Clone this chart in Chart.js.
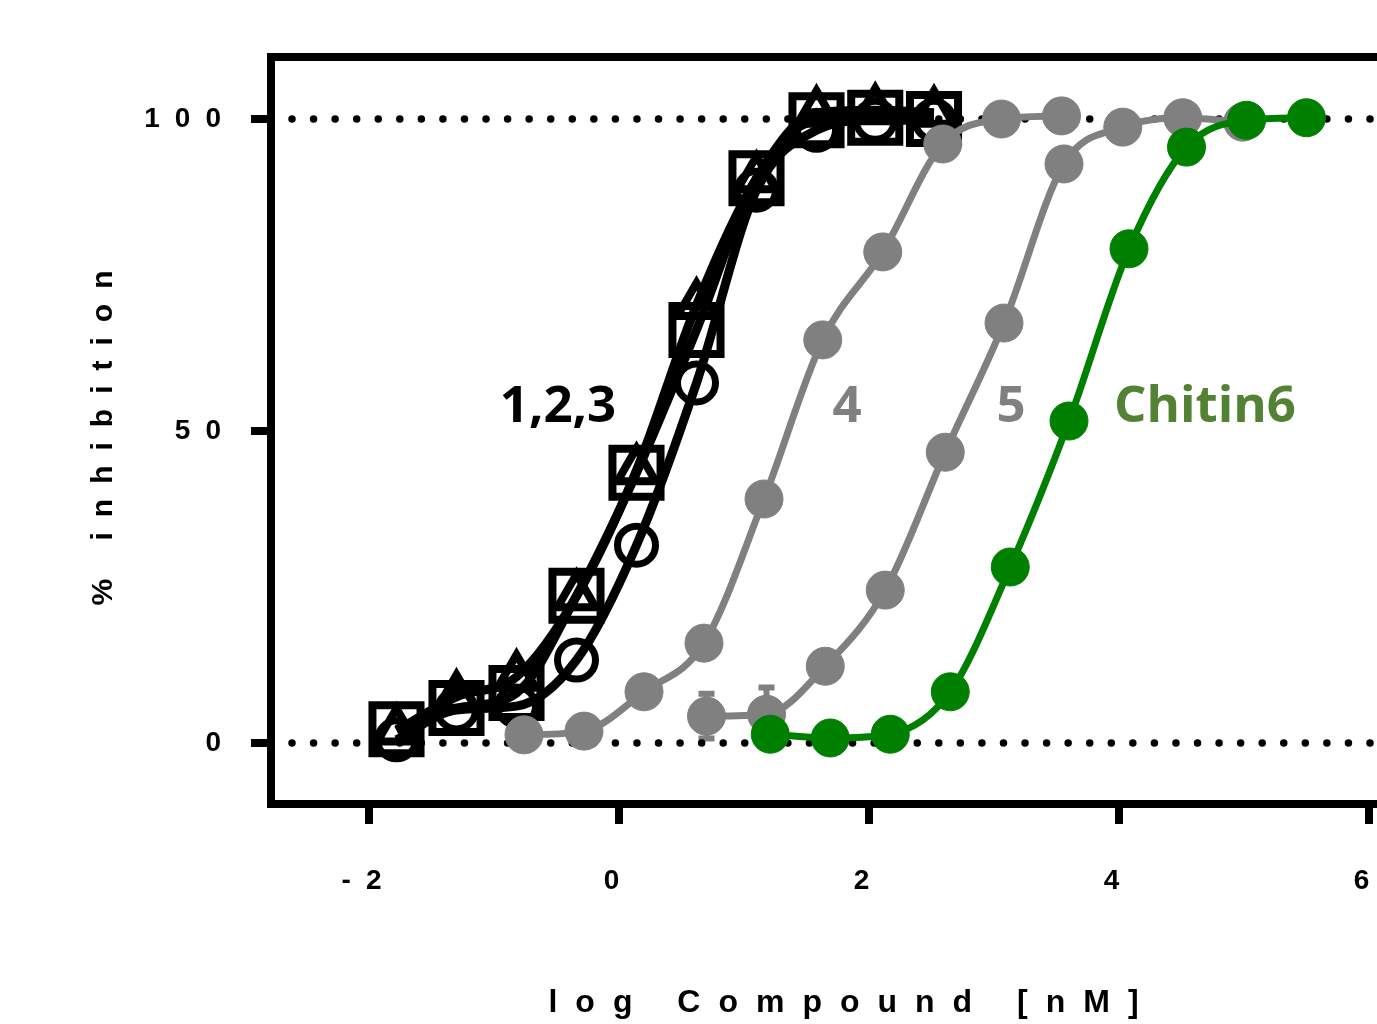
<!DOCTYPE html>
<html>
<head>
<meta charset="utf-8">
<script src="https://cdn.jsdelivr.net/npm/chart.js@4.4.1/dist/chart.umd.min.js"></script>
<style>
  html,body{margin:0;padding:0;background:#fff;overflow:hidden;width:1377px;height:1024px;}
  #wrap{width:1600px;height:1024px;}
  #c{display:block;width:1476px;height:1024px;}
</style>
</head>
<body>
<div id="wrap"><canvas id="c" width="1476" height="1024"></canvas></div>
<script>
/* ---------- DATA ---------- */
const xBlack = [-1.78, -1.30, -0.82, -0.34, 0.14, 0.62, 1.10, 1.58, 2.05, 2.52];
const sq     = [2.2, 5.6, 8.0, 23.6, 43.3, 66.2, 90.5, 99.8, 100.2, 100.0];
const tri    = [2.0, 7.4, 10.6, 23.5, 43.7, 70.2, 90.5, 101.0, 101.4, 101.0];
const circ   = [0.5, 5.3, 5.9, 13.3, 31.7, 57.7, 88.6, 98.2, 99.8, 99.8];

const xGrey4 = [-0.76, -0.28, 0.20, 0.68, 1.16, 1.63, 2.11, 2.59, 3.06, 3.54];
const grey4  = [1.3, 1.9, 8.2, 16.0, 39.1, 64.6, 78.7, 96.0, 100.0, 100.5];

const xGrey5   = [0.70, 1.18, 1.65, 2.13, 2.61, 3.08, 3.56, 4.03, 4.51, 4.99];
const grey5    = [4.3, 4.6, 12.3, 24.5, 46.6, 67.3, 92.8, 98.7, 100.2, 99.5];
const grey5Err = [3.6, 4.3, 0, 0, 0, 0, 0, 0, 0, 0];

const xGreen = [1.21, 1.69, 2.17, 2.65, 3.13, 3.60, 4.08, 4.54, 5.02, 5.50];
const green  = [1.4, 0.8, 1.4, 8.2, 28.2, 51.6, 79.2, 95.5, 99.8, 100.2];

const refX   = [-2.616, 6.6];      // dotted 0 % and 100 % lines
const refLvl = [0, 100];

const xTicks = [-2, 0, 2, 4, 6];
const yTicks = [0, 50, 100];

const labels = ['1,2,3', '4', '5', 'Chitin6'];
const labelX = [-0.488, 1.824, 3.136, 4.688];
const labelY = [51.4, 51.4, 51.4, 51.4];
const labelC = ['#000000', '#808080', '#808080', '#548235'];

/* ---------- SCALE RANGE ---------- */
const xMin = -2.784, xMax = 6.52;
const yMin = -9.78,  yMax = 109.94;

const GREY = '#808080', GREEN = '#008000';
const tickFont = {family:'Liberation Sans', size:28, weight:'bold'};
const pts = (xs, ys) => xs.map((x,i) => ({x, y:ys[i]}));

/* ---------- PLUGINS ---------- */
// letter spacing for axis texts (Prism style)
const gaps = {x:{ticks:'15px', title:'18px'}, y:{ticks:'15px', title:'15px'}};
const spacing = {
  id:'spacing',
  beforeDraw(chart){
    Object.entries(gaps).forEach(([id,g])=>{
      const s = chart.scales[id];
      if(!s || s._spaced) return;
      const dt = s.drawTitle.bind(s), dl = s.drawLabels.bind(s);
      s.drawTitle  = a => { s.ctx.save(); s.ctx.letterSpacing = g.title; dt(a); s.ctx.restore(); };
      s.drawLabels = a => { s.ctx.save(); s.ctx.letterSpacing = g.ticks; dl(a); s.ctx.restore(); };
      s._spaced = true;
    });
  }
};

const errBars = {
  id:'errBars',
  beforeDatasetsDraw(chart){
    const {ctx, scales:{x, y}} = chart;
    ctx.save();
    ctx.strokeStyle = GREY; ctx.lineWidth = 6;
    xGrey5.forEach((v,i)=>{
      const e = grey5Err[i]; if(!e) return;
      const px = x.getPixelForValue(v);
      const top = y.getPixelForValue(grey5[i]+e), bot = y.getPixelForValue(grey5[i]-e);
      ctx.beginPath();
      ctx.moveTo(px, top); ctx.lineTo(px, bot);
      ctx.moveTo(px-8, top); ctx.lineTo(px+8, top);
      ctx.moveTo(px-8, bot); ctx.lineTo(px+8, bot);
      ctx.stroke();
    });
    ctx.restore();
  }
};

const notes = {
  id:'notes',
  afterDatasetsDraw(chart){
    const {ctx, scales:{x, y}} = chart;
    ctx.save();
    ctx.font = 'bold 51px "Open Sans"';
    ctx.textAlign = 'center'; ctx.textBaseline = 'alphabetic';
    labels.forEach((t,i)=>{
      ctx.fillStyle = labelC[i];
      ctx.fillText(t, x.getPixelForValue(labelX[i]), y.getPixelForValue(labelY[i]));
    });
    ctx.restore();
  }
};

/* ---------- DATASETS ---------- */
const openSet = (lbl, ys, style, r, bw) => ({
  label:lbl, data:pts(xBlack, ys), borderColor:'#000', borderWidth:9,
  pointStyle:style, pointRadius:r, pointBorderWidth:bw,
  pointBorderColor:'#000', pointBackgroundColor:'rgba(0,0,0,0)',
  cubicInterpolationMode:'monotone', fill:false
});
const filledSet = (lbl, xs, ys, col) => ({
  label:lbl, data:pts(xs, ys), borderColor:col, borderWidth:7,
  pointStyle:'circle', pointRadius:19, pointBorderWidth:1,
  pointBorderColor:col, pointBackgroundColor:col,
  cubicInterpolationMode:'monotone', fill:false
});
const refSet = lvl => ({
  label:'ref'+lvl, data:pts(refX, refX.map(()=>lvl)), borderColor:'#000',
  borderWidth:7.5, borderDash:[0, 21.56], borderCapStyle:'round',
  pointRadius:0, fill:false
});

const datasets = [
  filledSet('Chitin6', xGreen, green, GREEN),
  filledSet('5', xGrey5, grey5, GREY),
  filledSet('4', xGrey4, grey4, GREY),
  openSet('1', circ, 'circle', 19, 7),
  openSet('2', tri, 'triangle', 22, 8),
  openSet('3', sq, 'rect', 34, 8),
  ...refLvl.map(refSet)
];

const axisGrid = {drawOnChartArea:false, drawTicks:true, tickLength:20, tickWidth:8,
                  tickColor:'#000', color:'#000', lineWidth:8};

new Chart(document.getElementById('c').getContext('2d'), {
  type:'line',
  data:{datasets},
  options:{
    responsive:false, maintainAspectRatio:false, animation:false, devicePixelRatio:1,
    layout:{padding:{top:57, left:0, right:0, bottom:0}},
    plugins:{legend:{display:false}, tooltip:{enabled:false}},
    scales:{
      x:{
        type:'linear', position:'bottom', min:xMin, max:xMax,
        afterBuildTicks:s=>{ s.ticks = xTicks.map(v=>({value:v})); },
        afterFit:s=>{ s.height = 220; },
        grid:axisGrid,
        border:{display:true, color:'#000', width:8},
        ticks:{font:tickFont, color:'#000', padding:40, maxRotation:0, autoSkip:false,
               callback:v=>String(v)},
        title:{display:true, text:'log Compound [nM]', color:'#000',
               font:{family:'Liberation Sans', size:32, weight:'bold'}, padding:{top:0, bottom:2}}
      },
      x2:{
        type:'linear', position:'top', min:xMin, max:xMax,
        afterBuildTicks:s=>{ s.ticks = xTicks.map(v=>({value:v})); },
        afterFit:s=>{ s.height = 0; },
        grid:{drawOnChartArea:false, drawTicks:false, color:'#000', lineWidth:8},
        border:{display:true, color:'#000', width:8},
        ticks:{display:false}
      },
      y:{
        type:'linear', position:'left', min:yMin, max:yMax,
        afterBuildTicks:s=>{ s.ticks = yTicks.map(v=>({value:v})); },
        afterFit:s=>{ s.width = 271; },
        grid:axisGrid,
        border:{display:true, color:'#000', width:8},
        ticks:{font:tickFont, color:'#000', padding:15, callback:v=>String(v)},
        title:{display:true, text:'% inhibition', color:'#000',
               font:{family:'Liberation Sans', size:30, weight:'bold'}, padding:{top:86, bottom:0}}
      }
    }
  },
  plugins:[spacing, errBars, notes]
});
</script>
</body>
</html>
